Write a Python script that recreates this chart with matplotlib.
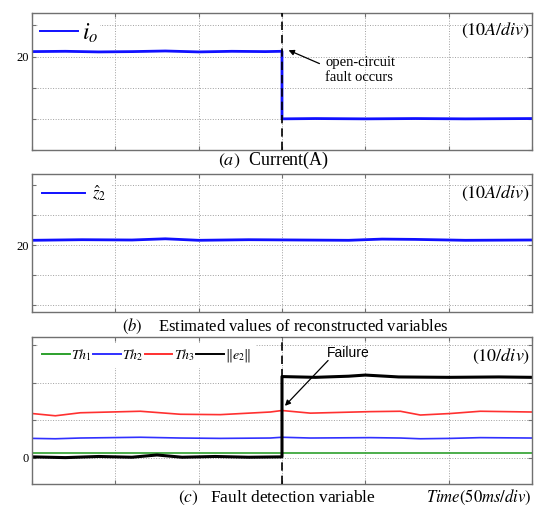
import matplotlib.pyplot as plt

plt.rcParams['font.family'] = ['Liberation Serif', 'DejaVu Serif']
plt.rcParams['mathtext.fontset'] = 'stix'

# sampling instants (s) and readings of each trace
fault_time = 0.15

io_time = [0.0, 0.02, 0.04, 0.06, 0.08, 0.10, 0.12, 0.14, 0.15, 0.15, 0.17, 0.20, 0.23, 0.26, 0.30]
io_values = [21.6, 21.7, 21.5, 21.6, 21.8, 21.5, 21.7, 21.6, 21.7, 0.0, 0.1, 0.0, 0.1, 0.0, 0.1]

z2_time = [0.0, 0.03, 0.06, 0.08, 0.10, 0.13, 0.16, 0.19, 0.21, 0.23, 0.26, 0.30]
z2_values = [21.6, 21.8, 21.7, 22.1, 21.6, 21.8, 21.7, 21.6, 22.0, 21.9, 21.6, 21.7]

th_time = [0.0, 0.014, 0.029, 0.065, 0.089, 0.113, 0.143, 0.15, 0.167, 0.203, 0.221, 0.233, 0.251, 0.269, 0.30]
th1_values = [1.3, 1.3, 1.3, 1.3, 1.3, 1.3, 1.3, 1.3, 1.3, 1.3, 1.3, 1.3, 1.3, 1.3, 1.3]
th2_values = [5.2, 5.1, 5.3, 5.5, 5.3, 5.2, 5.3, 5.5, 5.3, 5.4, 5.3, 5.1, 5.2, 5.4, 5.3]
th3_values = [11.8, 11.2, 12.0, 12.4, 11.6, 11.5, 12.2, 12.6, 11.9, 12.3, 12.4, 11.4, 11.8, 12.4, 12.2]

e2_time = [0.0, 0.02, 0.04, 0.06, 0.075, 0.09, 0.11, 0.13, 0.15, 0.15, 0.17, 0.19, 0.20, 0.22, 0.25, 0.28, 0.30]
e2_values = [0.3, 0.1, 0.4, 0.2, 0.8, 0.2, 0.4, 0.2, 0.3, 21.6, 21.4, 21.7, 22.0, 21.5, 21.4, 21.5, 21.4]

time_ticks = [0.0, 0.05, 0.10, 0.15, 0.20, 0.25, 0.30]

W, H = 534, 507
fig = plt.figure(figsize=(W / 100, H / 100), dpi=100)


def panel(left, top, right, bottom):
    ax = fig.add_axes([left / W, 1 - bottom / H, (right - left) / W, (bottom - top) / H])
    for s in ax.spines.values():
        s.set_color('#707070')
        s.set_linewidth(1.0)
    ax.tick_params(direction='in', top=True, right=True, length=3,
                   color='#707070', labelsize=9, pad=2)
    ax.set_xlim(0, 0.3)
    ax.set_xticks(time_ticks)
    ax.set_xticklabels([])
    ax.grid(True, ls=':', color='#a0a0a0', lw=0.7)
    return ax


def fault_line(ax):
    ax.axvline(fault_time, color='k', lw=1.2, ls=(0, (5, 3)), zorder=4)


def legend(ax, **kw):
    leg = ax.legend(loc='upper left', frameon=True, fancybox=False, **kw)
    leg.get_frame().set_facecolor('white')
    leg.get_frame().set_edgecolor('none')
    leg.get_frame().set_alpha(1)
    for h in leg.legend_handles:
        h.set_linewidth(1.4)
    return leg


# (a) output current
ax1 = panel(32, 13, 532, 150)
ax1.plot(io_time, io_values, color='#1010ff', lw=2.0, label=r'$i_o$')
fault_line(ax1)
ax1.set_ylim(-10, 34)
ax1.set_yticks([-10, 0, 10, 20, 30])
ax1.set_yticklabels(['', '', '', '20', ''])
legend(ax1, prop={'size': 17}, handlelength=1.6, handletextpad=0.15,
       borderaxespad=0.25, borderpad=0.1)
ax1.text(0.997, 0.87, r'$(10A/div)$', transform=ax1.transAxes, ha='right', va='center', fontsize=13)
ax1.text(0.176, 15.8, 'open-circuit\nfault occurs', ha='left', va='center', fontsize=10.5,
         linespacing=1.2)
ax1.annotate('', xy=(0.1524, 22.4), xytext=(0.174, 17.4),
             arrowprops=dict(arrowstyle='-|>', color='k', lw=0.9, mutation_scale=8))

# (b) reconstructed variable estimate
ax2 = panel(32, 174, 532, 312)
ax2.plot(z2_time, z2_values, color='#1010ff', lw=2.0, label=r'$\hat{z}_2$')
ax2.set_ylim(-2.3, 43.7)
ax2.set_yticks([0, 10, 20, 30, 40])
ax2.set_yticklabels(['', '', '20', '', ''])
legend(ax2, prop={'size': 12}, handlelength=2.6, handletextpad=0.4,
       borderaxespad=0.3, borderpad=0.3)
ax2.text(0.997, 0.86, r'$(10A/div)$', transform=ax2.transAxes, ha='right', va='center', fontsize=13)

# (c) fault detection variable and thresholds
ax3 = panel(32, 337, 532, 484)
ax3.plot(th_time, th1_values, color='#2ca02c', lw=1.2, label=r'$Th_1$')
ax3.plot(th_time, th2_values, color='#3030ff', lw=1.2, label=r'$Th_2$')
ax3.plot(th_time, th3_values, color='#ff3030', lw=1.2, label=r'$Th_3$')
ax3.plot(e2_time, e2_values, color='k', lw=2.2, label=r'$\Vert e_2\Vert$')
fault_line(ax3)
ax3.set_ylim(-6.9, 32.1)
ax3.set_yticks([0, 10, 20, 30])
ax3.set_yticklabels(['0', '', '', ''])
legend(ax3, prop={'size': 10}, ncol=4, handlelength=2.0, handletextpad=0.1,
       columnspacing=0.1, borderaxespad=0.4, borderpad=0.3)
ax3.text(0.997, 0.87, r'$(10/div)$', transform=ax3.transAxes, ha='right', va='center', fontsize=13)
ax3.text(0.1896, 27.9, 'Failure', ha='center', va='center', fontsize=10,
         family=['Liberation Sans', 'DejaVu Sans'])
ax3.annotate('', xy=(0.1506, 13.3), xytext=(0.1788, 26.4),
             arrowprops=dict(arrowstyle='-|>', color='k', lw=0.9, mutation_scale=8))

# captions
fig.text(274 / W, 1 - 160 / H, r'$(a)$  Current(A)', ha='center', va='center', fontsize=13)
fig.text(285 / W, 1 - 326 / H, r'$(b)$    Estimated values of reconstructed variables',
         ha='center', va='center', fontsize=12)
fig.text(277 / W, 1 - 498 / H, r'$(c)$   Fault detection variable', ha='center', va='center',
         fontsize=12.5)
fig.text(532 / W, 1 - 497 / H, r'$Time(50ms/div)$', ha='right', va='center', fontsize=12)

fig.savefig('out.png', dpi=100)
